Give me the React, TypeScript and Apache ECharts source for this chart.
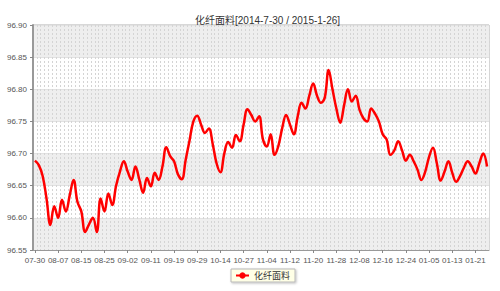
import React, { useEffect, useRef } from "react";
import * as echarts from "echarts";

const titleText = "化纤面料[2014-7-30 / 2015-1-26]";
const seriesName = "化纤面料";

const dates: string[] = [
  "07-30", "07-31", "08-01", "08-04", "08-05", "08-06",
  "08-07", "08-08", "08-11", "08-12", "08-13", "08-14",
  "08-15", "08-18", "08-19", "08-20", "08-21", "08-22",
  "08-25", "08-26", "08-27", "08-28", "08-29", "09-01",
  "09-02", "09-03", "09-04", "09-05", "09-09", "09-10",
  "09-11", "09-12", "09-15", "09-16", "09-17", "09-18",
  "09-19", "09-22", "09-23", "09-24", "09-25", "09-26",
  "09-29", "09-30", "10-08", "10-09", "10-10", "10-13",
  "10-14", "10-15", "10-17", "10-20", "10-22", "10-24",
  "10-27", "10-28", "10-29", "10-30", "10-31", "11-03",
  "11-04", "11-05", "11-06", "11-07", "11-10", "11-11",
  "11-12", "11-13", "11-14", "11-17", "11-18", "11-19",
  "11-20", "11-21", "11-24", "11-25", "11-26", "11-27",
  "11-28", "12-01", "12-02", "12-03", "12-04", "12-05",
  "12-08", "12-09", "12-10", "12-11", "12-12", "12-15",
  "12-16", "12-17", "12-18", "12-19", "12-22", "12-23",
  "12-24", "12-25", "12-26", "12-29", "12-30", "12-31",
  "01-05", "01-06", "01-07", "01-08", "01-09", "01-12",
  "01-13", "01-14", "01-15", "01-16", "01-19", "01-20",
  "01-21", "01-22", "01-23", "01-26",
];

const values: number[] = [
  96.689, 96.682, 96.665, 96.63, 96.589, 96.618,
  96.6, 96.628, 96.61, 96.635, 96.659, 96.625,
  96.61, 96.578, 96.59, 96.6, 96.578, 96.63,
  96.61, 96.638, 96.62, 96.65, 96.672, 96.688,
  96.672, 96.659, 96.68, 96.66, 96.639, 96.662,
  96.649, 96.67, 96.659, 96.68, 96.71, 96.696,
  96.688, 96.668, 96.66, 96.69, 96.72, 96.75,
  96.759, 96.745, 96.732, 96.739, 96.715, 96.685,
  96.671, 96.7, 96.718, 96.709, 96.729, 96.719,
  96.745, 96.769, 96.76, 96.75, 96.758, 96.722,
  96.711, 96.73, 96.698, 96.712, 96.74, 96.76,
  96.745, 96.73, 96.758, 96.779, 96.77, 96.79,
  96.809, 96.79, 96.779, 96.787, 96.83, 96.8,
  96.77, 96.748, 96.775, 96.8, 96.781, 96.79,
  96.768, 96.755, 96.75, 96.77, 96.762, 96.75,
  96.73, 96.722, 96.698, 96.705, 96.719, 96.705,
  96.689, 96.698, 96.688, 96.675, 96.659, 96.672,
  96.695, 96.709, 96.685, 96.658, 96.672, 96.688,
  96.67, 96.656, 96.665, 96.678, 96.688, 96.68,
  96.669, 96.685, 96.7, 96.68,
];

const yMin = 96.55;
const yMax = 96.9;
const yStep = 0.05;

const FONT = '"Liberation Sans", Arial, "Noto Sans CJK SC", sans-serif';

export default function App() {
  const ref = useRef<HTMLDivElement>(null);
  useEffect(() => {
    if (!ref.current) return;
    const chart = echarts.init(ref.current, undefined, { renderer: "svg" });
    chart.setOption({
      animation: false,
      backgroundColor: "#ffffff",
      title: {
        text: titleText,
        left: 190,
        top: 10,
        textStyle: { fontSize: 10, fontWeight: "normal", color: "#333", fontFamily: FONT },
      },
      legend: {
        data: [seriesName],
        left: 231,
        top: 269,
        padding: [2, 5, 2, 4],
        itemWidth: 13,
        itemHeight: 8,
        backgroundColor: "#ffffe6",
        borderColor: "#b8b8b8",
        borderWidth: 1,
        shadowBlur: 2,
        shadowColor: "rgba(0,0,0,0.25)",
        shadowOffsetX: 1,
        shadowOffsetY: 1,
        textStyle: { fontSize: 9, color: "#333", fontFamily: FONT },
      },
      grid: {
        left: 33,
        right: 11,
        top: 25,
        bottom: 41,
        show: true,
        borderColor: "#b0b0b0",
        borderWidth: 1,
        backgroundColor: "transparent",
      },
      xAxis: {
        type: "category",
        data: dates,
        boundaryGap: true,
        axisLine: { show: true, lineStyle: { color: "#999", width: 1 } },
        axisTick: { show: true, interval: 5, length: 3, alignWithLabel: true, lineStyle: { color: "#888" } },
        axisLabel: { interval: 5, fontSize: 8, color: "#555", margin: 6, fontFamily: FONT },
        splitLine: { show: true, interval: 0, lineStyle: { color: "#d4d4d4", type: [2, 2], width: 1 } },
      },
      yAxis: {
        type: "value",
        min: yMin,
        max: yMax,
        interval: yStep,
        axisLine: { show: true, lineStyle: { color: "#999", width: 2 } },
        axisTick: { show: true, length: 3, lineStyle: { color: "#888" } },
        axisLabel: {
          fontSize: 8,
          color: "#555",
          margin: 6,
          fontFamily: FONT,
          formatter: (v: number) => v.toFixed(2),
        },
        splitLine: { show: true, lineStyle: { color: "#e2e2e2", width: 1 } },
        splitArea: { show: true, areaStyle: { color: ["#eeeeee", "#ffffff"] } },
      },
      series: [
        {
          name: seriesName,
          type: "line",
          data: values,
          smooth: 0.4,
          symbol: "circle",
          symbolSize: 7,
          showSymbol: false,
          lineStyle: { color: "#ff0000", width: 2.5 },
          itemStyle: { color: "#ff0000" },
        },
      ],
    });
    return () => chart.dispose();
  }, []);
  return (
    <div
      ref={ref}
      style={{ position: "fixed", left: 0, top: 0, width: 500, height: 291 }}
    />
  );
}
